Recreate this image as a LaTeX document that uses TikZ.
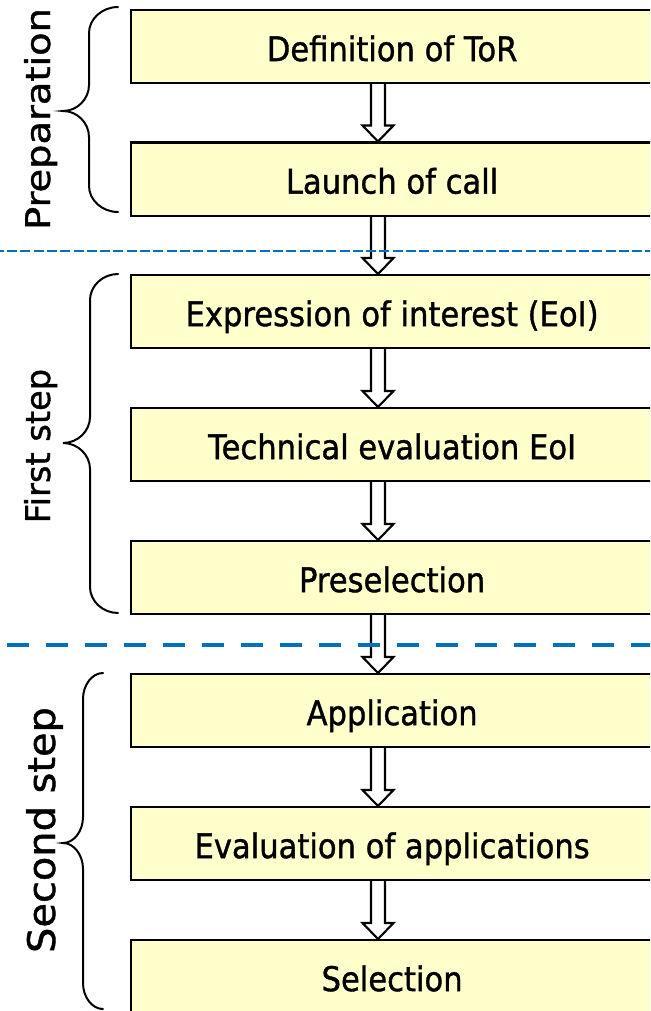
\documentclass[tikz,border=0pt]{standalone}
\usepackage{fontspec}
\setmainfont{DejaVu Sans}
\newfontfamily\boxfont[FakeStretch=0.9,FakeBold=1.1]{DejaVu Sans}
\newfontfamily\labelfont[FakeBold=1.1]{DejaVu Sans}
\usetikzlibrary{calc}
\definecolor{boxfill}{HTML}{FFFFCC}
\definecolor{sepblue}{HTML}{0070C0}
\newcommand{\phasebrace}[6]{% #1 end x, #2 vertical x, #3 tip x, #4 top y, #5 tip y, #6 bottom y
  \draw[bracestyle] (#1,#4) .. controls ({#1-0.55*(#1-#2)},#4) and (#2,{#4+12}) .. (#2,{#4+26})
    -- (#2,{#5-26}) .. controls (#2,{#5-12}) and ({#3+0.55*(#2-#3)},#5) .. (#3,#5)
    .. controls ({#3+0.55*(#2-#3)},#5) and (#2,{#5+12}) .. (#2,{#5+26})
    -- (#2,{#6-26}) .. controls (#2,{#6-12}) and ({#1-0.55*(#1-#2)},#6) .. (#1,#6);}
\begin{document}
\begin{tikzpicture}[x=1pt,y=-1pt,
  stage/.style={draw=black, line width=2.2pt, fill=boxfill, minimum width=522pt,
    minimum height=73pt, inner sep=0pt, text height=29pt, text depth=0pt,
    font=\boxfont\fontsize{34}{40}\selectfont, anchor=north west},
  blockarrow/.style={draw=black, line width=2.1pt, line join=miter},
  bracestyle/.style={draw=black, line width=2pt, line cap=round},
  phase/.style={rotate=90, anchor=base, inner sep=0pt},
]
\useasboundingbox (0,0) rectangle (650,1011);
\clip (0,0) rectangle (650,1011);

\node[stage] (b1) at (130,9)   {Definition of ToR};
\node[stage] (b2) at (130,141.5) {Launch of call};
\node[stage] (b3) at (130,274) {Expression of interest (EoI)};
\node[stage] (b4) at (130,407) {Technical evaluation EoI};
\node[stage] (b5) at (130,540) {Preselection};
\node[stage] (b6) at (130,673) {Application};
\node[stage] (b7) at (130,806) {Evaluation of applications};
\node[stage] (b8) at (130,939) {Selection};

\foreach \a/\b in {b1/b2,b2/b3,b3/b4,b4/b5,b5/b6,b6/b7,b7/b8}{
  \draw[blockarrow] ($(\a.south west)+(241,0)$) -- ($(\b.north west)+(241,-16)$)
    -- ($(\b.north west)+(232.5,-16)$) -- ($(\b.north west)+(248,0)$)
    -- ($(\b.north west)+(263.5,-16)$) -- ($(\b.north west)+(255,-16)$)
    -- ($(\a.south west)+(255,0)$);
}

\phasebrace{118}{89}{63}{7}{111}{212}
\phasebrace{118}{90}{63}{274}{443}{613}
\phasebrace{103}{83}{63}{673}{843}{1009}

\node[phase, font=\labelfont\fontsize{34}{40}\selectfont] (lprep) at (50,119) {\scalebox{1.13}[1]{Preparation}};
\node[phase, font=\labelfont\fontsize{34}{40}\selectfont] (lfirst) at (50,446) {\scalebox{0.99}[1]{First step}};
\node[phase, font=\labelfont\fontsize{38}{44}\selectfont] (lsecond) at (55,830) {\scalebox{1.05}[1]{Second step}};

\draw[sepblue, line width=2.5pt, dash pattern=on 10pt off 3.3pt] (-6.3,251) -- (660,251);
\draw[sepblue, line width=4.5pt, dash pattern=on 22pt off 17pt] (7,645) -- (660,645);
\end{tikzpicture}
\end{document}
